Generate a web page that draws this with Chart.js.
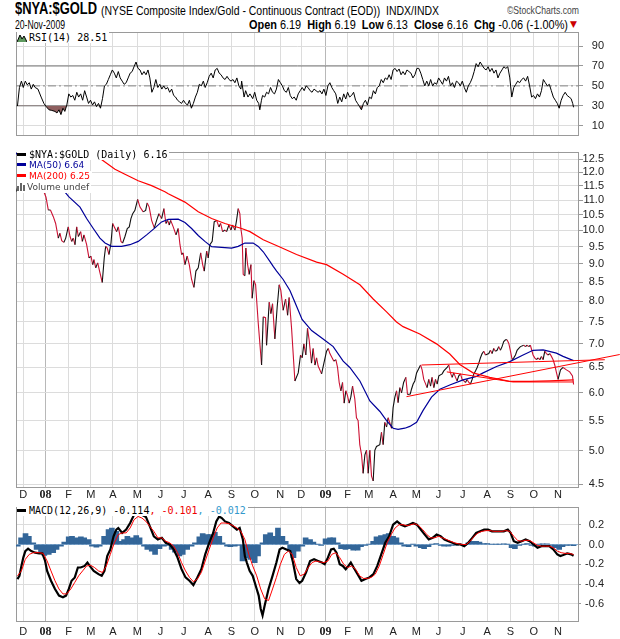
<!DOCTYPE html>
<html>
<head>
<meta charset="utf-8">
<script src="https://cdn.jsdelivr.net/npm/chart.js@4.4.0/dist/chart.umd.min.js"></script>
<style>
body{margin:0;background:#fff;width:620px;height:639px;overflow:hidden;position:relative;font-family:"Liberation Sans",Arial,sans-serif;}
canvas{position:absolute;left:0;}
.t{position:absolute;white-space:nowrap;color:#000;transform-origin:0 0;}
.leg{position:absolute;left:17px;font-family:"DejaVu Sans Mono",monospace;font-size:10px;line-height:11px;}
.leg div{background:#fff;display:table;padding-right:2px;}
.ln{display:inline-block;width:9px;height:3px;vertical-align:middle;margin-right:3px;margin-top:-2px;}
</style>
</head>
<body>
<div class="t" id="tTitle" style="left:15px;top:0px;font:bold 16px 'Liberation Sans',sans-serif;">$NYA:$GOLD</div>
<div class="t" id="tSub" style="left:101px;top:4px;font:12px 'Liberation Sans';">(NYSE Composite Index/Gold - Continuous Contract (EOD)) &nbsp;INDX/INDX</div>
<div class="t" id="tCopy" style="left:507px;top:4px;font:11px 'Liberation Sans';color:#444;">©StockCharts.com</div>
<div class="t" id="tDate" style="left:15px;top:18px;font:12px 'Liberation Sans';">20-Nov-2009</div>
<div class="t" id="tOhlc" style="left:249px;top:18px;font:12px 'Liberation Sans';"><b>Open</b> 6.19 &nbsp;<b>High</b> 6.19 &nbsp;<b>Low</b> 6.13 &nbsp;<b>Close</b> 6.16 &nbsp;<b>Chg</b> -0.06 (-1.00%)</div>
<div class="t" style="left:570px;top:19px;font:9px 'DejaVu Sans';color:#c00;">▼</div>

<canvas id="rsi" width="620" height="145" style="top:0px"></canvas>
<canvas id="price" width="620" height="355" style="top:145px"></canvas>
<canvas id="macd" width="620" height="139" style="top:500px"></canvas>

<div class="leg" style="top:32px;"><div><svg width="10" height="9" style="vertical-align:-1px;margin-right:2px"><path d="M0 9L3 2L5 6L7 3L10 9Z" fill="#5f9a5f"/><path d="M0 9L3 2L5 6L7 3L10 9" stroke="#000" fill="none"/></svg>RSI(14) 28.51</div></div>

<div class="leg" style="top:149px;">
<div><span class="ln" style="background:#000"></span>$NYA:$GOLD (Daily) 6.16</div>
<div style="font-family:'DejaVu Sans';font-size:9px;color:#000099"><span class="ln" style="background:#000099"></span>MA(50) 6.64</div>
<div style="font-family:'DejaVu Sans';font-size:9px;color:#ff0000"><span class="ln" style="background:#ff0000"></span>MA(200) 6.25</div>
<div style="font-family:'DejaVu Sans';font-size:9px;color:#444"><svg width="9" height="8" style="vertical-align:-1px;margin-right:1px"><rect x="0" y="3" width="2" height="5" fill="#666"/><rect x="3" y="0" width="2" height="8" fill="#666"/><rect x="6" y="2" width="2" height="6" fill="#666"/></svg>Volume undef</div>
</div>

<div class="leg" style="top:505px;"><div><span class="ln" style="background:#000"></span>MACD(12,26,9) -0.114<span style="color:#e00">, -0.101</span><span style="color:#3399cc">, -0.012</span></div></div>

<script>
// trading days counted from 3-Dec-2007
const monthDays = [0, 20, 41, 61, 81, 103, 124, 145, 167, 188, 209, 232, 251, 273, 293, 312, 334, 355, 375, 397, 419, 440, 461, 483];
const monthLabels = ['D', '08', 'F', 'M', 'A', 'M', 'J', 'J', 'A', 'S', 'O', 'N', 'D', '09', 'F', 'M', 'A', 'M', 'J', 'J', 'A', 'S', 'O', 'N'];

const priceTicks = [4.5, 5.0, 5.5, 6.0, 6.5, 7.0, 7.5, 8.0, 8.5, 9.0, 9.5, 10.0, 10.5, 11.0, 11.5, 12.0, 12.5];
const rsiTicks = [10, 30, 50, 70, 90];
const rsiLevels = [30, 50, 70];
const macdTicks = [-0.6, -0.4, -0.2, 0, 0.2];

const priceDays = [-6, -4, -2, 0, 2, 4, 6, 8, 10, 12, 14, 16, 18,
  20.5, 22.6, 24.5, 27.1, 29.2, 31.6, 33.1, 34.7, 36.7, 38.3, 40.6, 42.2, 43.7, 45.1, 46.7, 48.2, 49.7, 51.8, 53.3, 54.8, 57.2, 59.3,
  61.1, 62.7, 63.8, 65.4, 67.2, 69.2, 71.3, 73.1, 74.4, 75.8, 77.4, 79.2, 80.7, 82.2, 84.3, 85.8, 88.2, 89.7, 91.8, 93.9, 95.7, 97.2,
  98.8, 100.8, 103.3, 105.4, 108.3, 110.5, 111.9, 113.7, 115.9, 118.3, 120.4, 122.5, 124.9, 127, 128.8, 130.4, 131.8, 133.1, 135.4,
  137.9, 139.9, 141.5, 143, 144.4, 146, 148, 149.9, 152, 154.1, 155.9, 158, 160.2, 162, 163.4, 165.6, 167, 168.5, 170.6, 172.4, 174.6,
  176.7, 178.2, 180, 182.1, 183.6, 185.7, 187.5, 189, 191.1, 192.6, 194.1, 195.6, 196.5, 197.7, 198.6, 200.1, 201, 202.6, 204, 205.6,
  206.7, 208.3, 209.8, 212.2, 215.2, 216.7, 218.8, 219.7, 222.1, 223.6, 225.1, 227.2, 229.3, 231.1, 232.6, 234.7, 236.9, 238.7, 240.1,
  242.3, 245.3, 248.3, 250.4, 251.9, 253.4, 255.2, 256.7, 258.2, 260.3, 261.8, 263.4, 264.9, 266.3, 269.4, 271.5, 273.9, 275.4, 276.9,
  280.5, 282.3, 283.8, 285.3, 286.8, 288.3, 289.8, 291.3, 292.8, 294.3, 295.8, 297.4, 299.4, 300.9, 302.4, 303.9, 305.5, 306.9, 308.5,
  310, 311.5, 313, 314.5, 316, 317.5, 319, 322, 323.5, 325, 326.5, 328.1, 329.5, 332.6, 334, 335.6, 337.1, 338.5, 340.1, 341.6, 343.5,
  345.5, 347, 349.5, 350.6, 352.1, 353.6, 355.2, 358.8, 360.2, 361.7, 364.7, 366.2, 367.8, 369.2, 370.8, 372.3, 373.8, 375.3, 378.3,
  379.8, 382.8, 384.3, 385.8, 387.3, 388.8, 390.4, 391.8, 393.3, 394.9, 396.3, 397.9, 399.4, 400.8, 402.4, 403.9, 405.4, 406.9, 408.4,
  409.9, 411.4, 412.9, 414.4, 415.9, 417.4, 420.4, 421.9, 423.4, 424.9, 426.4, 427.9, 429.4, 430.9, 432.4, 433.9, 435.5, 436.9, 438.5,
  440, 441.5, 443, 444.5, 446, 447.5, 449, 452, 453.5, 455, 456.5, 458, 460.4, 461.9, 463.5, 464.9, 466.5, 468, 469.5, 471, 472.5, 474,
  475.5, 477, 478.5, 480, 481.5, 483, 485.2, 487.5, 490.6, 493.5, 496, 497];
const priceValues = [11.3, 11.7, 11.9, 11.8, 12.0, 11.85, 11.95, 11.7, 11.85, 11.75, 11.6, 11.45, 11.35,
  11.1, 10.66, 10.66, 10.44, 10.22, 9.76, 9.91, 9.68, 9.63, 9.76, 10.11, 9.81, 9.66, 9.76, 9.56, 10.11, 9.81, 9.96, 9.66, 9.86, 9.56, 9.17,
  9.22, 8.98, 9.12, 8.89, 9.03, 8.76, 8.49, 9.17, 9.51, 9.46, 9.27, 9.61, 10.22, 10.11, 9.96, 10.11, 9.66, 9.61, 9.81, 10.06, 10.11, 10.38,
  10.54, 10.65, 11.02, 10.76, 10.6, 10.65, 10.9, 10.76, 10.32, 10.08, 10.32, 10.54, 10.38, 10.71, 10.22, 10.32, 10.17, 10.32, 10.11,
  9.86, 10.06, 9.56, 9.27, 9.32, 8.98, 9.22, 8.98, 8.57, 8.36, 8.80, 8.89, 9.32, 8.98, 8.80, 9.37, 9.17, 9.56, 9.66, 10.27, 10.32,
  10.11, 10.22, 9.96, 10.01, 9.96, 10.17, 10.01, 10.17, 10.01, 10.32, 10.71, 10.54, 10.06, 9.76, 8.71, 8.67, 9.46, 8.98, 8.71, 8.98,
  8.08, 8.54, 8.43, 7.47, 6.55, 7.62, 7.60, 6.97, 7.98, 7.70, 7.94, 7.11, 7.86, 8.43, 8.28, 7.78, 8.06, 7.66, 8.10,
  7.35, 6.23, 6.39, 6.76, 6.70, 7.00, 6.76, 7.35, 7.08, 6.59, 6.90, 6.55, 6.70, 6.53, 6.37, 6.59, 6.84, 6.90, 6.79,
  6.63, 6.66, 6.50, 6.20, 6.04, 6.20, 5.81, 6.04, 5.95, 5.81, 5.92, 6.13, 5.89, 5.55, 5.50, 5.10, 4.94, 4.66, 4.94,
  5.01, 4.66, 5.01, 4.62, 4.55, 5.01, 5.07, 5.10, 5.30, 5.10, 5.47, 5.39, 5.55, 5.37, 5.73, 5.92, 6.04, 5.82, 6.10, 6.00, 6.20,
  6.30, 5.97, 5.98, 6.07, 6.17, 6.23, 6.39, 6.55, 6.45, 6.26, 6.10, 6.26, 6.13, 6.30, 6.10, 6.26, 6.17, 6.33, 6.37,
  6.43, 6.50, 6.55, 6.39, 6.30, 6.39, 6.30, 6.23, 6.33, 6.37, 6.26, 6.23, 6.20, 6.26, 6.20, 6.17, 6.26, 6.37, 6.43,
  6.50, 6.59, 6.70, 6.79, 6.84, 6.76, 6.79, 6.86, 6.79, 6.90, 6.84, 6.86, 6.94, 6.86, 6.94, 7.05, 7.09, 7.09, 7.01,
  6.84, 6.66, 6.70, 6.76, 6.86, 6.90, 6.94, 6.97, 6.94, 6.97, 6.94, 6.97, 6.76, 6.70, 6.66, 6.70, 6.66, 6.73, 6.66, 6.84, 6.79, 6.76,
  6.79, 6.73, 6.66, 6.55, 6.40, 6.26, 6.45, 6.50, 6.45, 6.41, 6.33, 6.16];

const ma50Days = [-6.6, -4.8, -1.4, 6, 15, 24, 33, 41, 51.2, 57.2, 63.2, 69.2, 73.8, 79.8, 88.8, 96.3, 103.8, 111.4, 118.9, 124.9,
  130.9, 139.9, 146, 152, 158, 164, 170.1, 179.1, 188.1, 194.1, 200.1, 207.6, 212.2, 216.7, 222.7, 225.7, 228.8, 234.7, 240.8,
  245.3, 251.8, 260.4, 270.8, 279.9, 288.9, 294.9, 304, 313, 322.1, 328.1, 334, 338.5, 344.6, 349.1, 355.2, 361.1, 368.7, 376.2,
  385.2, 397.2, 409.3, 415.3, 427.4, 439.4, 451.4, 460.4, 469.5, 481.5, 487.5, 497];
const ma50Values = [12.75, 12.68, 12.62, 12.45, 12.2, 11.85, 11.5, 11.12, 10.76, 10.38, 10.06, 9.76, 9.61, 9.51, 9.51, 9.56, 9.66, 9.86, 10.08, 10.27,
  10.35, 10.36, 10.25, 10.06, 9.84, 9.66, 9.50, 9.48, 9.46, 9.51, 9.61, 9.61, 9.51, 9.35, 9.07, 8.93, 8.80, 8.57, 8.28,
  7.98, 7.56, 7.30, 7.11, 6.94, 6.63, 6.50, 6.23, 5.85, 5.66, 5.50, 5.37, 5.35, 5.37, 5.40, 5.47, 5.68, 5.92, 6.07,
  6.15, 6.25, 6.32, 6.39, 6.52, 6.62, 6.76, 6.86, 6.87, 6.80, 6.73, 6.64];

const ma200Days = [-6.6, 20, 40, 55, 60, 64.7, 82.8, 91.8, 103.8, 115.9, 127.9, 130.9, 146, 158, 170.1, 182.1, 197.2, 204.7, 216.7,
  231.7, 246.8, 264.9, 273.9, 288.9, 304, 316, 328.1, 337.1, 343, 358.1, 373.2, 385.2, 394.2, 406.2, 421.3, 439.4, 457.4, 475.4, 497];
const ma200Values = [13.9, 13.5, 13.1, 12.95, 12.85, 12.68, 12.12, 11.93, 11.69, 11.51, 11.29, 11.22, 10.93, 10.60, 10.38, 10.22, 10.06, 9.96, 9.71,
  9.49, 9.27, 9.05, 8.98, 8.71, 8.43, 8.06, 7.74, 7.50, 7.39, 7.22, 7.00, 6.78, 6.56, 6.39, 6.30, 6.22, 6.22, 6.23, 6.25];

// drawn trend lines
const trendADays = [359.7, 525.2], trendAValues = [6.55, 6.66];
const trendBDays = [346.1, 538.7], trendBValues = [5.93, 6.77];
const trendCDays = [382.5, 442, 497], trendCValues = [6.41, 6.21, 6.21];

const rsiDays = [-5.3, -3.5, -1.7, 0, 1.8, 3.6, 5.4, 7.2, 9, 10.7, 13.2, 16.1, 18.6, 20.7, 23.2, 25.7, 28.6, 30.4, 32.2, 34, 35.8, 37.5,
  39.3, 41.1, 42.9, 44.7, 46.5, 48.3, 50, 51.8, 53.6, 55.4, 57.2, 58.9, 60.7, 62.5, 64.3, 66.1, 67.9, 69.7, 71.5, 73.3, 75, 76.8, 78.6,
  80.4, 82.2, 84, 85.8, 87.5, 89.3, 91.1, 92.9, 94.7, 96.5, 98.3, 100, 101.8, 103.6, 105.4, 107.2, 109, 110.8, 112.6, 114.3, 116.1,
  117.9, 119.7, 121.5, 123.3, 125.1, 126.8, 128.6, 130.4, 132.2, 134, 135.8, 137.5, 139.3, 141.1, 142.9, 144.7, 146.5, 148.3, 150,
  151.8, 153.6, 155.4, 157.2, 159, 160.8, 162.6, 164.3, 166.1, 167.9, 169.7, 171.5, 173.3, 175.1, 176.9, 178.6, 180.4, 182.2, 184,
  185.8, 187.6, 189.4, 191.1, 192.9, 194.7, 196.5, 197.2, 199.4, 200.8, 202.9, 204.7, 207.2, 209, 210.8, 212.6, 213.6, 215.1, 216.1,
  218, 219.7, 221.5, 223.3, 225.1, 226.9, 228.6, 230.4, 232.2, 234, 235.8, 237.6, 239.4, 241.1, 242.9, 244.7, 246.5, 248.3, 250.1,
  251.9, 253.7, 255.4, 257.2, 259, 260.8, 262.6, 264.4, 266.2, 268, 269.7, 271.5, 273.3, 275.1, 276.9, 278.6, 280.4, 282.2, 284,
  285.8, 287.6, 289.4, 291.2, 292.9, 294.7, 296.5, 298.3, 300.1, 301.9, 303.7, 305.4, 307.2, 309, 310.8, 312.6, 314.4, 316.2, 318,
  319.7, 321.5, 323.3, 325.1, 326.9, 328.7, 330.4, 332.2, 334, 335.8, 337.6, 339.4, 341.2, 342.9, 344.7, 346.5, 348.3, 350.1, 351.9,
  353.7, 355.5, 357.2, 359, 360.8, 362.6, 364.4, 366.2, 367.9, 369.7, 371.5, 373.3, 375.1, 376.9, 378.7, 380.4, 382.2, 384, 385.8,
  387.6, 389.4, 391.2, 393, 394.7, 396.5, 398.3, 400.1, 401.9, 403.7, 405.5, 407.2, 409, 410.8, 412.6, 414.4, 416.2, 418, 419.8,
  421.5, 423.3, 425.1, 426.9, 428.7, 430.5, 432.3, 434, 435.8, 437.6, 439.4, 441.2, 443, 444.8, 446.5, 448.3, 450.1, 451.9, 453.7,
  455.5, 457.3, 459.1, 460.8, 462.6, 464.4, 466.2, 468, 469.7, 471.5, 473.3, 475.1, 476.9, 478.7, 480.5, 482.3, 484, 485.8, 487.6,
  489.4, 491.2, 493, 494.8, 496.2, 497];
const rsiValues = [29.8, 48.4, 54.8, 48.4, 54.8, 51, 53.2, 46.8, 51.6, 48.4, 46.8, 38.8, 32.4, 29.2, 26, 25.4, 24.4, 22.8, 26, 21.2, 27.6, 24.4,
  30.8, 42, 38.8, 40.4, 35.6, 43.6, 38.8, 42, 35.6, 45.2, 38.8, 32.4, 35.6, 30.8, 34, 29.2, 32.4, 27.6, 37.2, 50, 51.6, 56.4, 61.2,
  66, 62.8, 58, 64.4, 58, 54.8, 51.6, 53.2, 58, 62.8, 64.4, 69.2, 74, 67.6, 66, 61.2, 64.4, 61.2, 66, 58, 43.6,
  48.4, 56.4, 48.4, 51.6, 46.8, 50, 46.8, 48.4, 43.6, 46.8, 40.4, 38.8, 35.6, 34, 32.4, 35.6, 32.4, 30.8, 35.6,
  27.6, 32.4, 38.8, 43.6, 51.6, 50, 54.8, 48.4, 53.2, 59.6, 62.8, 58, 66, 67.6, 62.8, 61.2, 58, 56.4, 59.6,
  56.4, 54.8, 56.4, 53.2, 58, 50, 46.8, 54.8, 38.8, 45.2, 38.8, 42, 37.2, 43.6, 35.6, 32.4, 26, 35.6, 40.4,
  38.8, 43.6, 42, 48.4, 43.6, 42, 46.8, 56.4, 53.2, 50, 45.2, 43.6, 48.4, 40.4, 37.2, 38.8, 35.6, 42, 45.2,
  48.4, 45.2, 50, 48.4, 45.2, 43.6, 46.8, 45.2, 43.6, 45.2, 42, 46.8, 40.4, 50, 53.2, 48.4, 45.2, 42, 32.4,
  38.8, 34, 42, 36.8, 43.6, 38.8, 40.4, 43.6, 35.6, 32.4, 29.2, 26, 32.4, 35.6, 30.8, 38.8, 37.2, 45.2, 42,
  48.4, 50, 56.4, 53.2, 58, 56.4, 61.2, 56.4, 66, 67.6, 64.4, 67, 61.2, 64.4, 61.2, 66, 64.4, 62.8, 58,
  61.2, 67.6, 67.6, 62.8, 56.4, 50, 54.8, 50, 56.4, 50, 53.2, 51.6, 58, 54.8, 51.6, 58, 54.8, 59.6, 50,
  53.2, 48.4, 54.8, 53.2, 50, 54.8, 48.4, 43.6, 50, 53.2, 58, 64.4, 72.4, 69.2, 74, 70.8, 67.6, 66, 69.2,
  64.4, 67.6, 62.8, 66, 58, 62.8, 66, 69.2, 67.6, 69.2, 58, 38.8, 48.4, 51.6, 54.8, 53.2, 56.4, 58, 54.8,
  59.6, 50, 38.8, 40.4, 37.2, 42, 38.8, 45.2, 56.4, 53.2, 50, 51.6, 45.2, 38.8, 35.6, 32.4, 27.6, 35.6, 40.4,
  43.6, 40.4, 38.8, 37.2, 32.4, 28.51];

const macdDays = [-5.3, -3.5, -1.7, 0, 1.8, 4.3, 7.2, 10.7, 14.3, 17.2, 19.7, 21.5, 25, 28.6, 32.2, 35.8, 38.6, 41.1, 43.6, 46.5, 49.3,
  51.8, 55.4, 57.9, 60, 63.6, 67.9, 70.8, 73.3, 75.8, 78.6, 81.5, 84, 85.8, 89.3, 92.9, 96.5, 100, 103.6, 107.2, 110.8, 114.3, 117.9,
  121.5, 125.1, 128.6, 132.2, 135.8, 139.3, 142.9, 146.5, 150.1, 153.6, 157.2, 160.8, 164.3, 167.9, 171.5, 174.3, 176.9, 179.3,
  182.2, 185.8, 189.4, 192.9, 195.4, 198.3, 200.1, 201.9, 204.4, 207.2, 210.8, 212.6, 214.4, 216.1, 218, 221.5, 225.1, 228.6, 231.5,
  234, 237.6, 241.1, 243.6, 246.5, 249.4, 251.9, 255.4, 259, 262.6, 266.2, 269.7, 272.2, 275.1, 278, 280.4, 282.9, 285.8, 288.6,
  291.2, 293.6, 295.8, 298.3, 301.9, 305.4, 309, 312.6, 316.2, 319.7, 323.3, 326.9, 330.4, 334, 337.6, 341.2, 344.7, 348.3, 351.9,
  355.5, 359, 362.6, 366.2, 369.7, 373.3, 376.9, 380.4, 384, 387.6, 391.2, 394.7, 398.3, 401.9, 405.5, 409, 412.6, 416.2, 419.8,
  423.3, 426.9, 430.5, 434, 437.6, 440.1, 443, 446.5, 450.1, 453.7, 457.3, 460.8, 464.4, 468, 471.5, 475.1, 478.7, 482.3, 485.1,
  487.6, 491.2, 494.8, 497];
const macdValues = [-0.35, -0.317, -0.217, -0.133, -0.067, -0.043, -0.067, -0.083, -0.09, -0.09, -0.167, -0.267, -0.367, -0.45, -0.517, -0.533, -0.517, -0.45, -0.367, -0.333, -0.233,
  -0.233, -0.217, -0.183, -0.217, -0.267, -0.3, -0.317, -0.267, -0.117, -0.05, 0.083, 0.15, 0.167, 0.117, 0.15, 0.217, 0.3, 0.317, 0.3, 0.277, 0.183, 0.083,
  0.05, 0.067, 0.017, 0, -0.05, -0.133, -0.25, -0.333, -0.367, -0.41, -0.333, -0.25, -0.1, 0.017, 0.117, 0.233, 0.283, 0.267,
  0.233, 0.217, 0.183, 0.15, 0.167, 0.05, -0.117, -0.183, -0.267, -0.317, -0.45, -0.517, -0.65, -0.717, -0.617, -0.45, -0.317, -0.183, -0.05,
  -0.033, -0.05, -0.067, -0.183, -0.35, -0.39, -0.367, -0.283, -0.167, -0.15, -0.167, -0.183, -0.2, -0.133, -0.05, -0.043, -0.083, -0.2, -0.217,
  -0.25, -0.217, -0.183, -0.233, -0.3, -0.367, -0.35, -0.333, -0.3, -0.217, -0.1, 0.017, 0.083, 0.2, 0.233, 0.2, 0.183, 0.2, 0.217,
  0.2, 0.15, 0.1, 0.05, 0.067, 0.1, 0.083, 0.05, 0.033, 0.017, 0, 0, -0.017, 0.017, 0.067, 0.117, 0.133, 0.15, 0.15,
  0.133, 0.133, 0.133, 0.133, 0.15, 0.117, 0.033, 0.017, 0.033, 0.05, 0.033, 0, -0.033, -0.017, -0.017, -0.017, -0.05, -0.1, -0.117,
  -0.107, -0.09, -0.1, -0.114];

const signalDays = [-5.3, -1.7, 1.8, 5.4, 9, 14.3, 17.9, 21.5, 25, 28.6, 32.2, 35.8, 39.3, 42.9, 46.5, 50, 53.6, 57.2, 60.8, 64.3, 67.9,
  71.5, 75, 78.6, 82.2, 85.8, 89.3, 92.9, 96.5, 100, 103.6, 107.2, 110.8, 114.3, 117.9, 121.5, 125.1, 128.6, 132.2, 135.8, 139.3,
  142.9, 146.5, 150.1, 153.6, 157.2, 160.8, 164.3, 167.9, 171.5, 175.1, 178.6, 182.2, 185.8, 189.4, 192.9, 196.5, 200.1, 203.7,
  207.2, 210.8, 214.4, 218, 221.5, 225.1, 228.6, 232.2, 235.8, 239.4, 242.9, 246.5, 250.1, 253.7, 257.3, 260.8, 264.4, 267.9, 271.5,
  275.1, 278.6, 282.2, 285.8, 289.4, 292.9, 296.5, 300.1, 303.7, 307.2, 310.8, 314.4, 317.9, 321.5, 325.1, 328.6, 332.2, 335.8,
  339.4, 342.9, 346.5, 350.1, 353.7, 357.2, 360.8, 364.4, 368, 371.5, 375.1, 378.7, 382.2, 385.8, 389.4, 393, 396.5, 400.1, 403.7,
  407.2, 410.8, 414.4, 418, 421.5, 425.1, 428.7, 432.3, 435.8, 439.4, 443, 446.5, 450.1, 453.7, 457.3, 460.8, 464.4, 468, 471.5,
  475.1, 478.7, 482.3, 485.8, 489.4, 493, 497];
const signalValues = [-0.317, -0.267, -0.15, -0.1, -0.083, -0.083, -0.09, -0.167, -0.267, -0.367, -0.45, -0.5, -0.5, -0.45, -0.383, -0.317, -0.267, -0.217, -0.21, -0.233, -0.267,
  -0.283, -0.217, -0.1, 0.017, 0.1, 0.117, 0.117, 0.167, 0.25, 0.283, 0.267, 0.233, 0.183, 0.133, 0.067, 0.067, 0.033, 0.017, -0.017, -0.083,
  -0.183, -0.267, -0.333, -0.377, -0.35, -0.283, -0.167, -0.05, 0.067, 0.167, 0.217, 0.217, 0.21, 0.19, 0.167, 0.133, 0.05, -0.1,
  -0.217, -0.317, -0.45, -0.55, -0.567, -0.45, -0.333, -0.2, -0.1, -0.067, -0.1, -0.233, -0.317, -0.3, -0.233, -0.183, -0.167, -0.177, -0.183,
  -0.167, -0.1, -0.083, -0.133, -0.2, -0.233, -0.217, -0.25, -0.317, -0.343, -0.343, -0.333, -0.3, -0.217, -0.1, 0.017, 0.1, 0.167,
  0.2, 0.2, 0.19, 0.2, 0.21, 0.19, 0.15, 0.1, 0.067, 0.067, 0.083, 0.067, 0.05, 0.033, 0.017, 0.007, 0, 0, 0.033,
  0.083, 0.117, 0.133, 0.14, 0.14, 0.133, 0.133, 0.133, 0.14, 0.133, 0.083, 0.04, 0.033, 0.043, 0.04, 0.017, -0.01, -0.017, -0.017,
  -0.017, -0.033, -0.067, -0.083, -0.09, -0.09, -0.101];

const histDays = [-5, -2, 2, 5, 9, 12, 16, 19, 23, 27, 30, 34, 37, 41, 44, 48, 52, 55, 59, 62,
  66, 69, 73, 77, 80, 84, 87, 91, 94, 98, 102, 105, 109, 112, 116, 119, 123, 127, 130, 134,
  137, 141, 144, 148, 152, 155, 159, 162, 166, 169, 173, 177, 180, 184, 187, 191, 194, 198, 202, 205,
  209, 212, 216, 219, 223, 227, 230, 234, 237, 241, 244, 248, 252, 255, 259, 262, 266, 269, 273, 277,
  280, 284, 287, 291, 294, 298, 302, 305, 309, 312, 316, 319, 323, 327, 330, 334, 337, 341, 344, 348,
  352, 355, 359, 362, 366, 369, 373, 377, 380, 384, 387, 391, 394, 398, 402, 405, 409, 412, 416, 419,
  423, 427, 430, 434, 437, 441, 444, 448, 452, 455, 459, 462, 466, 469, 473, 477, 480, 484, 487, 491,
  494, 497];
const histValues = [-0.017, 0.067, 0.11, 0.083, 0.017, -0.05, -0.09, -0.11, -0.1, -0.083, -0.05, -0.017, 0.023, 0.077, 0.083, 0.067, 0.077, 0.067, 0.05, -0.017,
  -0.027, -0.017, 0.083, 0.15, 0.167, 0.133, 0.033, 0.05, 0.083, 0.067, 0.09, 0.067, -0.017, -0.05, -0.067, -0.1, -0.043, -0.017, -0.01, -0.05,
  -0.077, -0.117, -0.1, -0.05, -0.017, 0.017, 0.077, 0.11, 0.1, 0.1, 0.123, 0.083, 0.017, -0.017, -0.023, -0.017, -0.01, -0.167, -0.133, -0.15,
  -0.183, -0.117, 0.017, 0.1, 0.117, 0.083, 0.167, 0.083, 0.033, -0.067, -0.133, -0.067, -0.017, 0.067, 0.05, 0.023, 0.003, -0.01, 0.057, 0.067,
  0.067, 0.017, -0.043, -0.05, -0.043, -0.057, -0.057, -0.023, -0.01, 0.003, 0.033, 0.077, 0.09, 0.1, 0.11, 0.083, 0.067, 0.017, -0.017, -0.023,
  0.003, -0.017, -0.033, -0.043, -0.023, 0.003, 0.01, -0.01, -0.017, -0.017, -0.01, -0.007, 0.003, -0.01, 0.017, 0.033, 0.033, 0.023, 0.01, 0.01,
  0.003, 0.003, 0.003, 0.007, 0.003, -0.033, -0.043, -0.01, 0.003, 0.01, -0.01, -0.017, 0.003, 0.007, 0.007, -0.01, -0.033, -0.05, -0.023, -0.01,
  -0.007, -0.012];

const pts = (xs, ys) => xs.map((x, i) => ({ x: x, y: ys[i] }));

// squeeze header texts to the widths they have in the original
function fit(id, w) {
  const el = document.getElementById(id);
  el.style.transform = 'scaleX(' + (w / el.getBoundingClientRect().width) + ')';
}
fit('tTitle', 82);
fit('tSub', 338);
fit('tCopy', 72);
fit('tDate', 50);
fit('tOhlc', 319);

Chart.defaults.font.family = "'Liberation Sans', Arial, sans-serif";
Chart.defaults.font.size = 11;
Chart.defaults.color = '#222';

const framePlugin = {
  id: 'frame',
  beforeDatasetsDraw(chart) {
    const a = chart.chartArea, g = chart.ctx;
    g.save();
    g.strokeStyle = '#9a9a9a';
    g.lineWidth = 1;
    g.strokeRect(Math.round(a.left) + 0.5, Math.round(a.top) + 0.5, Math.round(a.right - a.left) - 1, Math.round(a.bottom - a.top) - 1);
    g.restore();
  }
};

function xAxis(showLabels, h, pad) {
  return {
    type: 'linear', min: -6.6, max: 501.9, offset: false,
    afterBuildTicks: s => { s.ticks = monthDays.map(v => ({ value: v })); },
    afterFit: s => { s.height = h; },
    border: { display: false },
    grid: {
      drawTicks: false, offset: false,
      color: c => (c.index === 1 || c.index === 13) ? '#b8b8b8' : '#dcdcdc'
    },
    ticks: {
      display: showLabels, autoSkip: false, maxRotation: 0, padding: pad, color: '#222',
      font: c => (c.index === 1 || c.index === 13) ? { family: "'Liberation Serif', serif", size: 12, weight: 'bold' } : { size: 11 },
      callback: v => monthLabels[monthDays.indexOf(v)]
    }
  };
}

function yAxis(type, min, max, tickVals, digits, pad, tl, zeroColor) {
  return {
    type: type, position: 'right', min: min, max: max,
    afterBuildTicks: s => { s.ticks = tickVals.map(v => ({ value: v })); },
    afterFit: s => { s.width = 25; },
    border: { display: false },
    grid: {
      color: c => (zeroColor && c.tick && c.tick.value === 0) ? zeroColor : '#dcdcdc',
      tickColor: '#999', tickLength: tl
    },
    ticks: { padding: pad, crossAlign: 'far', color: '#222', font: { size: 11 }, callback: v => Number(v).toFixed(digits) }
  };
}

const baseOpts = (padTop, padBottom) => ({
  responsive: false, animation: false, events: [],
  layout: { padding: { left: 16, right: 16, top: padTop, bottom: padBottom } },
  plugins: { legend: { display: false }, tooltip: { enabled: false } },
  elements: { point: { radius: 0 }, line: { tension: 0 } }
});

// RSI panel
const rsiOpts = baseOpts(32, 4);
rsiOpts.scales = { x: xAxis(false, 0, 0), y: yAxis('linear', -0.7, 104.1, rsiTicks, 0, 2, 4) };
new Chart(document.getElementById('rsi'), {
  type: 'line',
  data: {
    datasets: [
      { data: pts(rsiDays, rsiValues), borderColor: '#000', borderWidth: 1,
        fill: { target: { value: 30 }, above: 'rgba(0,0,0,0)', below: '#8e5f5f' } },
      { data: pts([-6.6, 501.9], [rsiLevels[0], rsiLevels[0]]), borderColor: '#777', borderWidth: 1 },
      { data: pts([-6.6, 501.9], [rsiLevels[1], rsiLevels[1]]), borderColor: '#888', borderWidth: 1, borderDash: [8, 3, 2, 3] },
      { data: pts([-6.6, 501.9], [rsiLevels[2], rsiLevels[2]]), borderColor: '#777', borderWidth: 1 }
    ]
  },
  options: rsiOpts,
  plugins: [framePlugin]
});

// price panel
const priceOpts = baseOpts(2, 0);
priceOpts.scales = { x: xAxis(true, 12, 0), y: yAxis('logarithmic', 4.45, 12.81, priceTicks, 1, 0, 4) };
new Chart(document.getElementById('price'), {
  type: 'line',
  data: {
    datasets: [
      { data: pts(trendADays, trendAValues), borderColor: '#ff0000', borderWidth: 1, clip: false },
      { data: pts(trendBDays, trendBValues), borderColor: '#ff0000', borderWidth: 1, clip: false },
      { data: pts(trendCDays, trendCValues), borderColor: '#ff0000', borderWidth: 1 },
      { data: pts(ma200Days, ma200Values), borderColor: '#ff0000', borderWidth: 1.2 },
      { data: pts(ma50Days, ma50Values), borderColor: '#000099', borderWidth: 1.2 },
      { data: pts(priceDays, priceValues), borderColor: '#000', borderWidth: 1.1,
        segment: { borderColor: c => c.p1.parsed.y < c.p0.parsed.y ? '#cc1133' : '#111' } }
    ]
  },
  options: priceOpts,
  plugins: [framePlugin]
});

// MACD panel
const macdOpts = baseOpts(5, 0);
macdOpts.scales = { x: xAxis(true, 17, 3), y: yAxis('linear', -0.784, 0.383, macdTicks, 1, 0, 2, '#8fb3d6') };
new Chart(document.getElementById('macd'), {
  type: 'line',
  data: {
    datasets: [
      { type: 'line', data: pts(signalDays, signalValues), borderColor: '#ff0000', borderWidth: 1, order: 1 },
      { type: 'line', data: pts(macdDays, macdValues), borderColor: '#000', borderWidth: 2.2, order: 2 },
      { type: 'bar', data: pts(histDays, histValues), backgroundColor: '#336699', barThickness: 5, order: 3 }
    ]
  },
  options: macdOpts,
  plugins: [framePlugin]
});
</script>
</body>
</html>
